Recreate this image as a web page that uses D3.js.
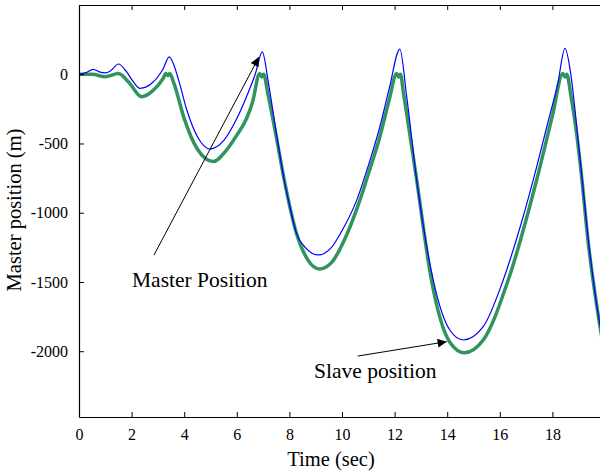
<!DOCTYPE html>
<html lang="en">
<head>
    <meta charset="UTF-8" />
    <title>Master / Slave position</title>
    <script src="https://d3js.org/d3.v7.min.js"></script>
    <style>
        body { margin: 0; background: #fff; }
        text { font-family: "Liberation Serif", "Times New Roman", serif; fill: #000; }
    </style>
</head>
<body>
    <div id="chart"></div>
    <script>
        var w = 600;
        var h = 475;

        // Master position (blue)
        var masterTime = [0, 0.25, 0.54, 0.8, 1.0, 1.2, 1.5, 1.8, 2.05, 2.32, 2.8, 3.2, 3.43, 3.6, 3.8, 4.1, 4.5, 4.98, 5.5, 6.0, 6.37, 6.7, 6.97, 7.2, 7.5, 7.8, 8.0, 8.27, 8.6, 9.1, 9.6, 10.0, 10.56, 11.0, 11.44, 11.8, 12.2, 12.46, 12.84, 13.47, 14.1, 14.61, 15.37, 16.13, 16.7, 17.27, 17.8, 18.2, 18.48, 18.7, 18.9, 19.1, 19.37, 19.6, 19.8, 20];
        var masterPos = [0, 10, 35, 15, 10, 25, 74, 20, -50, -102, -60, 40, 126, 70, -50, -258, -450, -540, -480, -320, -162, 0, 162, -60, -420, -760, -940, -1149, -1250, -1305, -1250, -1130, -909, -660, -379, -100, 182, -162, -764, -1486, -1847, -1919, -1823, -1486, -1150, -764, -370, -70, 187, 0, -330, -700, -1200, -1550, -1800, -2000];

        // Slave position (green)
        var slaveTime = [0, 0.5, 1.0, 1.5, 1.9, 2.38, 2.8, 3.2, 3.3, 3.38, 3.45, 3.6, 4.0, 4.5, 5.1, 5.6, 6.0, 6.37, 6.6, 6.87, 6.95, 7.02, 7.19, 7.5, 7.8, 8.27, 8.7, 9.14, 9.6, 10.2, 10.68, 11.0, 11.44, 11.8, 12.08, 12.15, 12.22, 12.35, 12.84, 13.4, 14.1, 14.65, 15.37, 16.32, 17.4, 18.0, 18.4, 18.48, 18.55, 18.7, 18.9, 19.1, 19.37, 19.6, 19.8, 20];
        var slavePos = [0, 0, -18, 5, -60, -162, -120, -30, 5, -10, 5, -60, -320, -540, -630, -550, -440, -320, -200, 6, -20, 0, -150, -450, -760, -1150, -1340, -1406, -1360, -1150, -909, -720, -451, -180, 6, -20, 0, -150, -764, -1486, -1935, -2011, -1919, -1486, -764, -300, 5, -20, 0, -150, -400, -720, -1230, -1560, -1811, -2030];

        var xTicks = [0, 2, 4, 6, 8, 10, 12, 14, 16, 18];
        var yTicks = [0, -500, -1000, -1500, -2000];

        var svg = d3.select("#chart")
            .append("svg")
            .attr("width", w)
            .attr("height", h);

        var padLeft = 79, padRight = 605, padTop = 5, padBottom = 417;

        var xScale = d3.scaleLinear()
            .domain([0, 20])
            .range([padLeft, padRight]);

        var yScale = d3.scaleLinear()
            .domain([-2475, 500])
            .range([padBottom, padTop]);

        function series(ts, vs) {
            return ts.map(function (t, i) { return { t: t, v: vs[i] }; });
        }

        var line = d3.line()
            .x(function (d) { return xScale(d.t); })
            .y(function (d) { return yScale(d.v); })
            .curve(d3.curveMonotoneX);

        // slave first, master on top
        svg.append("path")
            .datum(series(slaveTime, slavePos))
            .attr("fill", "none")
            .attr("stroke", "#31945f")
            .attr("stroke-width", 3.5)
            .attr("stroke-linejoin", "round")
            .attr("d", line);

        svg.append("path")
            .datum(series(masterTime, masterPos))
            .attr("fill", "none")
            .attr("stroke", "#0000ff")
            .attr("stroke-width", 1.2)
            .attr("d", line);

        // plain hyphen minus, no thousands separator
        function plain(d) { return String(d); }

        // axes, ticks pointing inwards on all four sides
        var xAxis = d3.axisBottom(xScale).tickValues(xTicks).tickFormat(plain).tickSizeInner(-5).tickSizeOuter(0).tickPadding(12);
        var yAxis = d3.axisLeft(yScale).tickValues(yTicks).tickFormat(plain).tickSizeInner(-5).tickSizeOuter(0).tickPadding(11);

        svg.append("g")
            .attr("transform", "translate(0," + padBottom + ")")
            .call(xAxis);
        svg.append("g")
            .attr("transform", "translate(" + padLeft + ",0)")
            .call(yAxis);

        svg.append("g")
            .attr("transform", "translate(0," + padTop + ")")
            .call(d3.axisTop(xScale).tickValues(xTicks).tickSizeInner(-5).tickSizeOuter(0).tickFormat(""));
        svg.append("g")
            .attr("transform", "translate(" + padRight + ",0)")
            .call(d3.axisRight(yScale).tickValues(yTicks).tickSizeInner(-5).tickSizeOuter(0).tickFormat(""));

        svg.selectAll("g")
            .attr("font-family", "'Liberation Serif', serif")
            .attr("font-size", 16);
        svg.selectAll(".domain").attr("stroke", "#000").attr("stroke-width", 1.2);
        svg.selectAll(".tick line").attr("stroke", "#000");
        svg.selectAll(".tick text")
            .style("font-family", "'Liberation Serif', serif")
            .style("font-size", "16px");

        // axis titles
        svg.append("text")
            .attr("x", 331)
            .attr("y", 466)
            .attr("text-anchor", "middle")
            .style("font-size", "20.5px")
            .text("Time (sec)");

        svg.append("text")
            .attr("transform", "translate(21,210) rotate(-90)")
            .attr("text-anchor", "middle")
            .style("font-size", "20.5px")
            .text("Master position (m)");

        // annotations
        svg.append("defs").append("marker")
            .attr("id", "arrow")
            .attr("viewBox", "0 0 10 10")
            .attr("refX", 10)
            .attr("refY", 5)
            .attr("markerWidth", 13)
            .attr("markerHeight", 9)
            .attr("markerUnits", "userSpaceOnUse")
            .attr("orient", "auto")
            .append("path")
            .attr("d", "M0,0L10,5L0,10z")
            .attr("fill", "#000");

        var notes = [
            { label: "Master Position", tx: 132, ty: 287, x0: 2.85, v0: -1306, x1: 6.84, v1: 124 },
            { label: "Slave position", tx: 314, ty: 378, x0: 10.6, v0: -2035, x1: 13.98, v1: -1931 }
        ];

        notes.forEach(function (n) {
            svg.append("line")
                .attr("x1", xScale(n.x0))
                .attr("y1", yScale(n.v0))
                .attr("x2", xScale(n.x1))
                .attr("y2", yScale(n.v1))
                .attr("stroke", "#000")
                .attr("stroke-width", 1)
                .attr("marker-end", "url(#arrow)");
            svg.append("text")
                .attr("x", n.tx)
                .attr("y", n.ty)
                .style("font-size", "21.5px")
                .text(n.label);
        });
    </script>
</body>
</html>
